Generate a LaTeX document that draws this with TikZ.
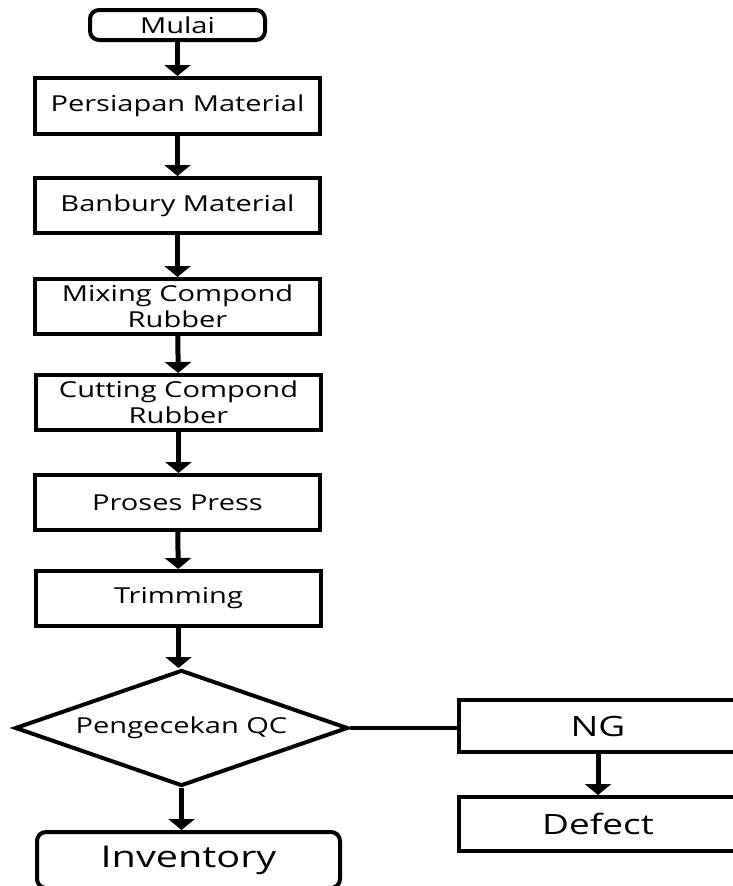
\documentclass[tikz,border=0pt]{standalone}
\usepackage{fontspec}
\setmainfont{Open Sans}[FakeStretch=1.32]
\usetikzlibrary{positioning,shapes.geometric,arrows.meta}
\tikzset{
	proses/.style={draw,rectangle,line width=4pt,minimum width=285pt,
		minimum height=55pt,align=center,font=\fontsize{22}{26}\selectfont},
	terminal/.style={proses,rounded corners=9pt},
	keputusan/.style={draw,diamond,line width=4pt,aspect=2.85,minimum width=333pt,
		minimum height=116pt,inner sep=0pt,font=\fontsize{22}{26}\selectfont},
	alur/.style={line width=5pt,-{Triangle[width=26pt,length=11pt]}}
}

\begin{document}
\begin{tikzpicture}[x=1pt,y=1pt]
\path[use as bounding box,clip] (0,0) rectangle (733,-886);

\node[terminal,minimum width=175pt,minimum height=30pt] (mulai) at (177.5,-25) {Mulai};
\node[proses,minimum height=56pt,below=34pt of mulai] (persiapan) {Persiapan Material};
\node[proses,below=40pt of persiapan] (banbury) {Banbury Material};
\node[proses,below=42pt of banbury] (mixing) {Mixing Compond\\Rubber};
\node[proses,below=37pt of mixing,xshift=1pt] (cutting) {Cutting Compond\\Rubber};
\node[proses,below=41pt of cutting,xshift=-1pt] (press) {Proses Press};
\node[proses,below=37pt of press,xshift=1pt] (trimming) {Trimming};
\node[keputusan,below=40pt of trimming,xshift=3pt] (qc) {Pengecekan QC};
\node[terminal,minimum width=303pt,minimum height=56pt,below=42pt of qc,xshift=7pt,
	font=\fontsize{30}{36}\selectfont] (inventory) {Inventory};
\node[proses,anchor=west,minimum width=278pt,minimum height=52pt,
	font=\fontsize{28}{34}\selectfont] (ng) at ([xshift=107pt,yshift=2pt]qc.east) {NG};
\node[proses,minimum width=278pt,minimum height=54pt,below=41pt of ng,
	font=\fontsize{28}{34}\selectfont] (defect) {Defect};

\draw[alur] (mulai) -- (persiapan);
\draw[alur] (persiapan) -- (banbury);
\draw[alur] (banbury) -- (mixing);
\draw[alur] (mixing) -- (cutting);
\draw[alur] (cutting.south) -- (press.north -| cutting.south);
\draw[alur] (press) -- (trimming);
\draw[alur] (trimming.south) -- (qc.north -| trimming.south);
\draw[alur] (qc.south) -- (inventory.north -| qc.south);
\draw[line width=4pt] (qc.east) -- (qc.east -| ng.west);
\draw[alur] (ng) -- (defect);

\end{tikzpicture}
\end{document}
